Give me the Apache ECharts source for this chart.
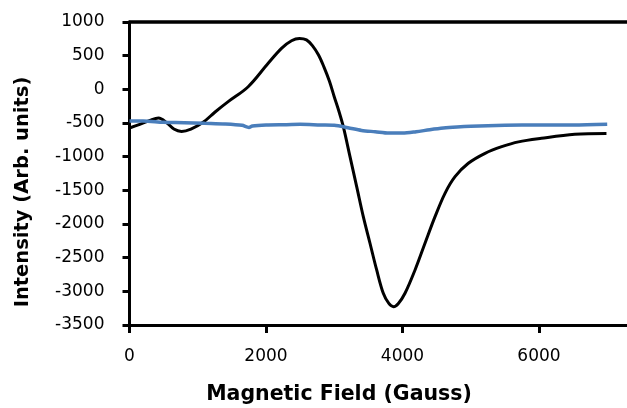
<!DOCTYPE html>
<html>
<head>
<meta charset="utf-8">
<script src="https://cdn.jsdelivr.net/npm/echarts@6/dist/echarts.min.js"></script>
<style>
html,body{margin:0;padding:0;background:#fff;}
#chart{width:627px;height:408px;}
</style>
</head>
<body>
<div id="chart"></div>
<script>
// Black trace: magnetic field (Gauss) and intensity
var fieldBlack = [0,150,300,425,550,650,762,900,1084,1250,1446,1739,2032,2227,2374,2491,2593,2680,2770,2850,2930,3000,3070,3133,3231,3329,3426,3524,3622,3719,3800,3870,3940,4037,4184,4330,4477,4623,4770,4965,5210,5454,5700,6036,6525,6989];
var intensityBlack = [-574,-520,-460,-426,-500,-590,-625,-590,-485,-340,-183,39,387,609,722,755,735,650,510,330,120,-110,-330,-555,-1000,-1445,-1891,-2286,-2683,-3029,-3180,-3228,-3180,-3029,-2683,-2286,-1891,-1544,-1297,-1098,-950,-852,-780,-727,-668,-655];
// Blue trace
var fieldBlue = [0,200,500,800,1100,1400,1650,1750,1800,2000,2300,2500,2800,3000,3200,3400,3600,3800,4000,4200,4400,4600,4800,5000,5500,6000,6500,7000];
var intensityBlue = [-470,-470,-490,-495,-505,-515,-535,-565,-545,-530,-525,-520,-530,-535,-570,-610,-630,-650,-650,-630,-600,-575,-560,-550,-535,-530,-530,-520];
// Tick labels
var xTicks = [0,2000,4000,6000];

function pairs(xs, ys){ return xs.map(function(x,i){ return [x, ys[i]]; }); }
function plain(v){ return String(v); }

var chart = echarts.init(document.getElementById('chart'));
var axisLineStyle = {color:'#000', width:3};
chart.setOption({
  animation:false,
  backgroundColor:'#fff',
  grid:{left:129.5, right:0, top:22, bottom:83},
  xAxis:[{
    type:'value', min:0, max:7290, position:'bottom',
    axisLine:{show:true, onZero:false, lineStyle:axisLineStyle},
    axisTick:{show:true, length:8, lineStyle:{color:'#000', width:3}, customValues:xTicks},
    axisLabel:{show:true, margin:23, color:'#000', fontFamily:'DejaVu Sans', fontSize:17, customValues:xTicks, formatter:plain},
    splitLine:{show:false}
  },{
    type:'value', min:0, max:7290, position:'top',
    axisLine:{show:true, onZero:false, lineStyle:{color:'#000', width:3.5}},
    axisTick:{show:false}, axisLabel:{show:false}, splitLine:{show:false}
  }],
  yAxis:{
    type:'value', min:-3500, max:1000, interval:500,
    axisLine:{show:true, onZero:false, lineStyle:axisLineStyle},
    axisTick:{show:true, length:7, lineStyle:{color:'#000', width:3}},
    axisLabel:{show:true, margin:25, color:'#000', fontFamily:'DejaVu Sans', fontSize:17, formatter:plain},
    splitLine:{show:false}
  },
  graphic:[
    {type:'text', x:339, y:395, style:{text:'Magnetic Field (Gauss)', fontFamily:'DejaVu Sans', fontWeight:'bold', fontSize:20.5, fill:'#000', textAlign:'center', textVerticalAlign:'middle'}},
    {type:'text', x:23, y:192, rotation:Math.PI/2, style:{text:'Intensity (Arb. units)', fontFamily:'DejaVu Sans', fontWeight:'bold', fontSize:19.5, fill:'#000', textAlign:'center', textVerticalAlign:'middle'}}
  ],
  series:[
    {type:'line', data:pairs(fieldBlack, intensityBlack), showSymbol:false, smooth:0.35, lineStyle:{color:'#000', width:3}, z:2},
    {type:'line', data:pairs(fieldBlue, intensityBlue), showSymbol:false, smooth:0.3, lineStyle:{color:'#4a7ebb', width:3.5}, z:3}
  ]
});
</script>
</body>
</html>
